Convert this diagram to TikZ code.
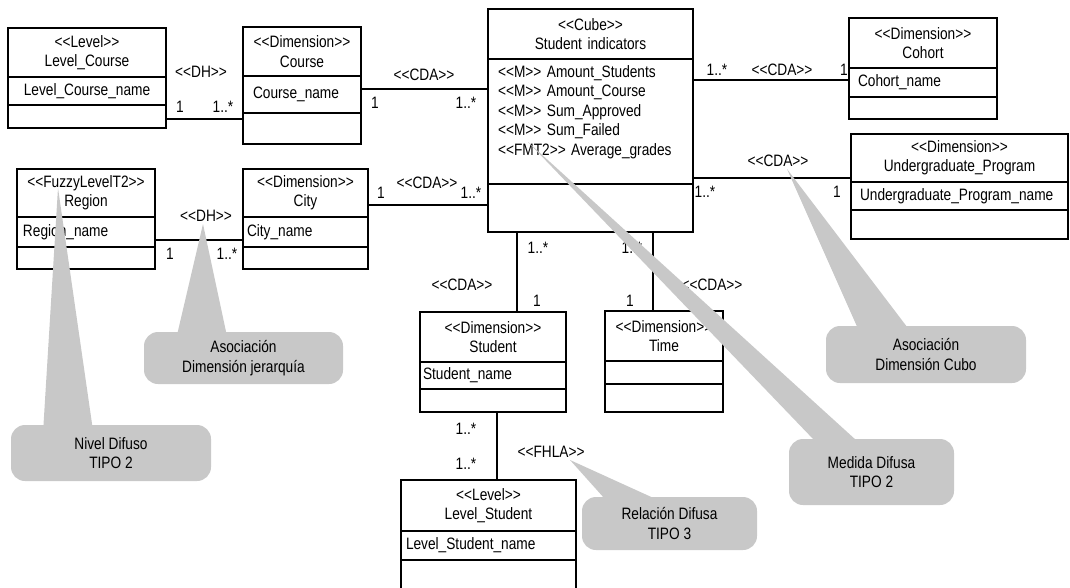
\documentclass[tikz,border=0pt]{standalone}
\usepackage{fontspec}
\setmainfont{Liberation Sans}[FakeStretch=0.83,Ligatures=TeXOff]
\usepackage{tikz}
\usetikzlibrary{positioning,calc}
\definecolor{notegray}{RGB}{200,200,200}
\tikzstyle{head} = [draw, align=center, inner xsep=5pt, inner ysep=0pt, outer sep=0pt, anchor=north]
\tikzstyle{comp} = [draw, align=left, inner ysep=0pt, outer sep=0pt]
\tikzstyle{lbl} = [anchor=base, inner sep=0pt]
\tikzstyle{tie} = [line cap=rect]
\tikzstyle{note} = [fill=notegray, rounded corners=14pt, align=center, inner sep=0pt]

\begin{document}
\begin{tikzpicture}[x=1pt, y=-1pt, line width=1.2pt, font=\fontsize{16.5}{19.4}\selectfont]
	\useasboundingbox (0,0) rectangle (1070,587);
	% classes
	\node (lc) [head, text width=148pt, minimum height=49pt] at (87,28) {<<Level>>\\Level\_Course};
	\node (lcA) [comp, align=center, inner xsep=5pt, text width=148pt, minimum height=28pt, below=0pt of lc] {Level\_Course\_name};
	\node (lcO) [comp, inner xsep=5pt, text width=148pt, minimum height=23pt, below=0pt of lcA] {};
	%
	\node (co) [head, text width=108pt, minimum height=49pt] at (302,27) {<<Dimension>>\\Course};
	\node (coA) [comp, inner xsep=10pt, text width=98pt, minimum height=37pt, below=0pt of co] {Course\_name};
	\node (coO) [comp, inner xsep=10pt, text width=98pt, minimum height=31pt, below=0pt of coA] {};
	%
	\node (cube) [head, text width=195pt, minimum height=50pt] at (590.5,9) {<<Cube>>\\Student indicators};
	\node (cubeA) [comp, inner xsep=10pt, text width=185pt, minimum height=125pt, text depth=100pt, below=0pt of cube]
		{<<M>> Amount\_Students\\<<M>> Amount\_Course\\<<M>> Sum\_Approved\\<<M>> Sum\_Failed\\<<FMT2>> Average\_grades};
	\node (cubeO) [comp, inner xsep=10pt, text width=185pt, minimum height=48pt, below=0pt of cubeA] {};
	%
	\node (ch) [head, text width=138pt, minimum height=50pt] at (923,18) {<<Dimension>>\\Cohort};
	\node (chA) [comp, inner xsep=9pt, text width=130pt, minimum height=29pt, below=0pt of ch] {Cohort\_name};
	\node (chO) [comp, inner xsep=9pt, text width=130pt, minimum height=22pt, below=0pt of chA] {};
	%
	\node (ug) [head, text width=207pt, minimum height=48pt] at (959.5,134) {<<Dimension>>\\Undergraduate\_Program};
	\node (ugA) [comp, inner xsep=9pt, text width=199pt, minimum height=28pt, below=0pt of ug] {Undergraduate\_Program\_name};
	\node (ugO) [comp, inner xsep=9pt, text width=199pt, minimum height=29pt, below=0pt of ugA] {};
	%
	\node (rg) [head, text width=128pt, minimum height=48pt] at (86,169) {<<FuzzyLevelT2>>\\Region};
	\node (rgA) [comp, inner xsep=6pt, text width=126pt, minimum height=30pt, below=0pt of rg] {Region\_name};
	\node (rgO) [comp, inner xsep=6pt, text width=126pt, minimum height=22pt, below=0pt of rgA] {};
	%
	\node (ci) [head, text width=115pt, minimum height=48pt] at (305.5,169) {<<Dimension>>\\City};
	\node (ciA) [comp, inner xsep=4pt, text width=117pt, minimum height=30pt, below=0pt of ci] {City\_name};
	\node (ciO) [comp, inner xsep=4pt, text width=117pt, minimum height=22pt, below=0pt of ciA] {};
	%
	\node (st) [head, text width=136pt, minimum height=50pt] at (493,312) {<<Dimension>>\\Student};
	\node (stA) [comp, inner xsep=3pt, text width=140pt, minimum height=27pt, below=0pt of st] {Student\_name};
	\node (stO) [comp, inner xsep=3pt, text width=140pt, minimum height=23pt, below=0pt of stA] {};
	%
	\node (ti) [head, text width=108pt, minimum height=50pt] at (664,311) {<<Dimension>>\\Time};
	\node (tiA) [comp, inner xsep=5pt, text width=108pt, minimum height=23pt, below=0pt of ti] {};
	\node (tiO) [comp, inner xsep=5pt, text width=108pt, minimum height=28pt, below=0pt of tiA] {};
	%
	\node (ls) [head, text width=165pt, minimum height=51pt] at (488.5,480) {<<Level>>\\Level\_Student};
	\node (lsA) [comp, inner xsep=5pt, text width=165pt, minimum height=29pt, below=0pt of ls] {Level\_Student\_name};
	\node (lsO) [comp, inner xsep=5pt, text width=165pt, minimum height=40pt, below=0pt of lsA] {};
	%
	% associations
	\draw [tie] ([yshift=-2.5pt]lcO.east) -- ([yshift=-2.5pt]lcO.east -| coO.west);
	\draw [tie] ([yshift=5.5pt]coA.east) -- ([yshift=5.5pt]coA.east -| cube.west);
	\draw [tie] ([yshift=-12pt]ci.east) -- ([yshift=-12pt]ci.east -| cube.west);
	\draw [tie] ([yshift=2.5pt]chA.west -| cube.east) -- ([yshift=2.5pt]chA.west);
	\draw [tie] ([yshift=4pt]ugA.north west -| cube.east) -- ([yshift=4pt]ugA.north west);
	\draw [tie] ([yshift=-8pt]rgA.east) -- ([yshift=-8pt]rgA.east -| ciA.west);
	\draw [tie] ([xshift=24pt]st.north) -- ([xshift=24pt]st.north |- cubeO.south);
	\draw [tie] ([xshift=-11pt]ti.north) -- ([xshift=-11pt]ti.north |- cubeO.south);
	\draw [tie] ([xshift=4pt]stO.south) -- ([xshift=4pt]stO.south |- ls.north);
	%
	% labels
	\node (dh1) [lbl] at (201,77) {<<DH>>};
	\node (dh1a) [lbl] at (180,112) {1};
	\node (dh1b) [lbl] at (223,112) {1..*};
	\node (cda1) [lbl] at (424,80) {<<CDA>>};
	\node (cda1a) [lbl] at (375,108) {1};
	\node (cda1b) [lbl] at (466,108) {1..*};
	\node (cda2) [lbl] at (427,188) {<<CDA>>};
	\node (cda2a) [lbl] at (381,198) {1};
	\node (cda2b) [lbl] at (471,198) {1..*};
	\node (cda3) [lbl] at (782,75) {<<CDA>>};
	\node (cda3a) [lbl] at (717,75) {1..*};
	\node (cda3b) [lbl] at (844,75) {1};
	\node (cda4) [lbl] at (778,166) {<<CDA>>};
	\node (cda4a) [lbl] at (705,197) {1..*};
	\node (cda4b) [lbl] at (837,197) {1};
	\node (dh2) [lbl] at (206,221) {<<DH>>};
	\node (dh2a) [lbl] at (170,259) {1};
	\node (dh2b) [lbl] at (227,259) {1..*};
	\node (cda5) [lbl] at (462,290) {<<CDA>>};
	\node (cda5a) [lbl] at (538,253) {1..*};
	\node (cda5b) [lbl] at (537,306) {1};
	\node (cda6) [lbl] at (712,290) {<<CDA>>};
	\node (cda6a) [lbl] at (632,253) {1..*};
	\node (cda6b) [lbl] at (630,306) {1};
	\node (fhla) [lbl] at (551,457) {<<FHLA>>};
	\node (fhlaa) [lbl] at (466,434) {1..*};
	\node (fhlab) [lbl] at (466,469) {1..*};
	%
	% notes
	\node (nivel) [note, minimum width=200pt, minimum height=56pt] at (111,453) {Nivel Difuso\\TIPO 2};
	\node (jerar) [note, minimum width=199pt, minimum height=52pt] at (243.5,358) {Asociación\\Dimensión jerarquía};
	\node (cubo) [note, minimum width=200pt, minimum height=57pt] at (926,354.5) {Asociación\\Dimensión Cubo};
	\node (medida) [note, minimum width=165pt, minimum height=66pt] at (871.5,472) {Medida Difusa\\TIPO 2};
	\node (relac) [note, minimum width=175pt, minimum height=53pt] at (669.5,523.5) {Relación Difusa\\TIPO 3};
	\coordinate (nivelTip) at (58,188);
	\coordinate (jerarTip) at (203,224);
	\coordinate (cuboTip) at (787,169);
	\coordinate (medidaTip) at (528,142);
	\coordinate (relacTip) at (570,460);
	\fill [notegray] (nivelTip) -- ($(nivel.north west)+(33,2)$) -- ($(nivel.north west)+(82,2)$) -- cycle;
	\fill [notegray] (jerarTip) -- ($(jerar.north west)+(34,2)$) -- ($(jerar.north west)+(83,2)$) -- cycle;
	\fill [notegray] (cuboTip) -- ($(cubo.north west)+(32,2)$) -- ($(cubo.north west)+(82,2)$) -- cycle;
	\fill [notegray] (medidaTip) -- ($(medida.north west)+(26,2)$) -- ($(medida.north west)+(68,2)$) -- cycle;
	\fill [notegray] (relacTip) -- ($(relac.north west)+(23,2)$) -- ($(relac.north west)+(73,2)$) -- cycle;
\end{tikzpicture}
\end{document}
